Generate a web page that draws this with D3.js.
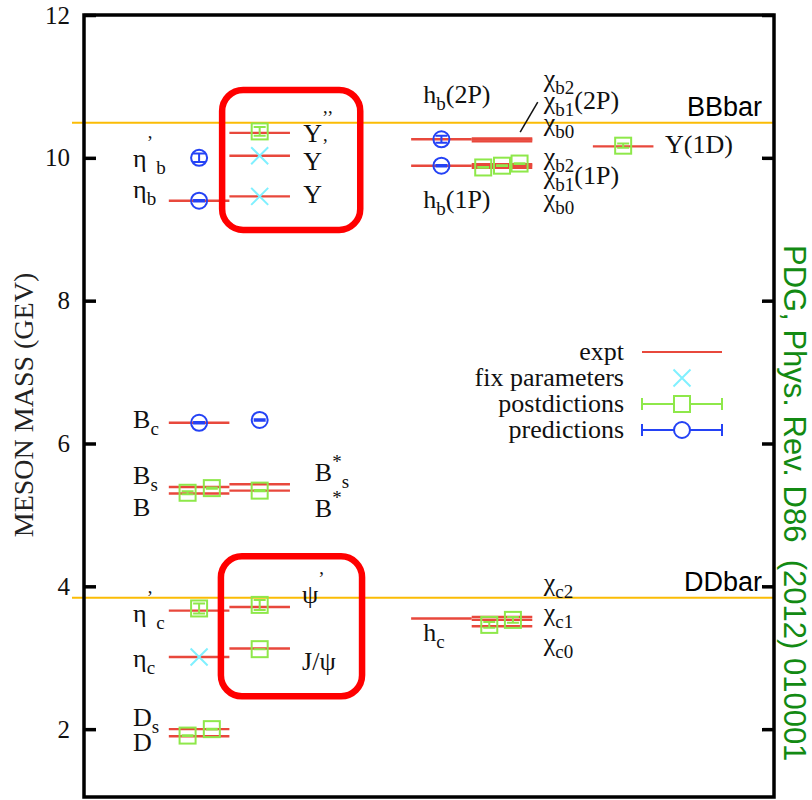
<!DOCTYPE html>
<html>
<head>
<meta charset="utf-8">
<script src="https://cdnjs.cloudflare.com/ajax/libs/d3/7.8.5/d3.min.js"></script>
<style>
  body { margin: 0; background: #fff; }
  svg { display: block; }
  text { white-space: pre; }
</style>
</head>
<body>
<script>
// experimental levels: [column, mass GeV]
var expt = [
    [0, 1.90], [0, 2.00], [0, 3.01], [0, 3.66], [0, 5.30], [0, 5.39], [0, 6.29], [0, 9.40],
    [1, 3.13], [1, 3.71], [1, 5.34], [1, 5.43], [1, 9.46], [1, 10.03], [1, 10.35],
    [4, 3.55], [4, 9.89], [4, 10.26],
    [5, 3.44], [5, 3.53], [5, 3.57], [5, 9.86], [5, 9.89], [5, 9.91],
    [5, 10.23], [5, 10.255], [5, 10.27],
    [7, 10.16]
];
// states used to fix the parameters: [column, mass]
var fixParams = [[0, 3.01], [1, 9.46], [1, 10.03]];
// postdictions: [column, mass, error]
var postdictions = [
    [-0.19, 1.91, 0.005], [0.21, 2.00, 0.005], [0, 3.69, 0.07], [1, 3.12, 0], [1, 3.74, 0.07],
    [-0.19, 5.31, 0.02], [0.21, 5.375, 0.01], [1, 5.34, 0.01], [1, 10.37, 0.06],
    [4.79, 3.46, 0.04], [5.18, 3.53, 0.04],
    [4.69, 9.865, 0.005], [5.0, 9.89, 0.005], [5.29, 9.92, 0.005],
    [7, 10.17, 0.03]
];
// predictions: [column, mass, error]
var predictions = [
    [0, 9.40, 0.01], [0, 10.00, 0.06], [0, 6.29, 0.01], [1, 6.33, 0.01],
    [4, 9.89, 0.01], [4, 10.26, 0.05]
];
// open flavour thresholds
var thresholds = [['BBbar', 10.49], ['DDbar', 3.84]];
var yTicks = [2, 4, 6, 8, 10, 12];
// state names: [column, mass at baseline, text]  (_{} subscript, ^{} superscript)
var labels = [
    [-1.09, 1.69, 'D'], [-1.09, 2.04, 'D_{s}'],
    [-1.09, 2.87, 'η_{c}'], [-1.09, 3.50, 'η^{’}_{ c}'],
    [-1.09, 4.98, 'B'], [-1.09, 5.43, 'B_{s}'], [-1.09, 6.22, 'B_{c}'],
    [-1.09, 9.44, 'η_{b}'], [-1.09, 9.87, 'η^{’}_{ b}'],
    [1.70, 2.83, 'J/ψ'], [1.70, 3.76, 'ψ^{’}'],
    [1.91, 4.97, 'B^{*}'], [1.91, 5.47, 'B^{*}_{s}'],
    [1.72, 9.37, 'Υ'], [1.72, 9.83, 'Υ^{’}'], [1.72, 10.22, 'Υ^{’’}'],
    [3.70, 3.23, 'h_{c}'], [3.70, 9.30, 'h_{b}(1P)'], [3.70, 10.77, 'h_{b}(2P)'],
    [5.69, 3.10, 'χ_{c0}'], [5.69, 3.52, 'χ_{c1}'], [5.69, 3.94, 'χ_{c2}'],
    [5.69, 9.31, 'χ_{b0}'], [5.69, 9.64, 'χ_{b1}(1P)'], [5.69, 9.90, 'χ_{b2}'],
    [5.69, 10.38, 'χ_{b0}'], [5.69, 10.69, 'χ_{b1}(2P)'], [5.69, 10.99, 'χ_{b2}'],
    [7.69, 10.07, 'Υ(1D)']
];
// highlighted families: [col left, col right, mass top, mass bottom]
var boxes = [[0.38, 2.66, 10.95, 8.99], [0.36, 2.69, 4.42, 2.46]];
// pointer from chi_b(2P) lines to their names
var pointer = [[5.30, 10.36], [5.59, 10.78]];

var serif = '"Liberation Serif", "Times New Roman", serif';
var red = '#e8483c', cyan = '#80f0ff', green = '#8ee84a', blue = '#2442f5';

var svg = d3.select('body')
    .append('svg')
    .attr('width', 812)
    .attr('height', 800);

// scales
var x = d3.scaleLinear().domain([-1.9, 9.49]).range([84, 774]);
var y = d3.scaleLinear().domain([1.05, 12]).range([797, 15]);

// thresholds
thresholds.forEach(function (d) {
    svg.append('line')
        .attr('x1', x.range()[0] - 12).attr('x2', x.range()[1])
        .attr('y1', y(d[1])).attr('y2', y(d[1]))
        .attr('stroke', '#fbbc05')
        .attr('stroke-width', 2);
    svg.append('text')
        .attr('x', x.range()[1] - 12)
        .attr('y', y(d[1]) - 7)
        .attr('text-anchor', 'end')
        .attr('font-family', '"Liberation Sans", Arial, sans-serif')
        .attr('font-size', '27px')
        .text(d[0]);
});

// experimental levels
svg.selectAll('line.expt')
    .data(expt)
    .enter().append('line')
    .attr('class', 'expt')
    .attr('x1', function (d) { return x(d[0] - 0.5); })
    .attr('x2', function (d) { return x(d[0] + 0.5); })
    .attr('y1', function (d) { return y(d[1]); })
    .attr('y2', function (d) { return y(d[1]); })
    .attr('stroke', red)
    .attr('stroke-width', 2.4);

// vertical error bar with caps
function errorBar(g, d, color) {
    var cx = x(d[0]);
    g.append('path')
        .attr('d', 'M' + cx + ',' + y(d[1] - d[2]) + 'V' + y(d[1] + d[2]) +
            'M' + (cx - 6) + ',' + y(d[1] - d[2]) + 'H' + (cx + 6) +
            'M' + (cx - 6) + ',' + y(d[1] + d[2]) + 'H' + (cx + 6))
        .attr('fill', 'none')
        .attr('stroke', color)
        .attr('stroke-width', 2);
}

// fix parameters (crosses)
svg.selectAll('path.fix')
    .data(fixParams)
    .enter().append('path')
    .attr('class', 'fix')
    .attr('transform', function (d) { return 'translate(' + x(d[0]) + ',' + y(d[1]) + ')'; })
    .attr('d', 'M-8.5,-8.5L8.5,8.5M-8.5,8.5L8.5,-8.5')
    .attr('stroke', cyan)
    .attr('stroke-width', 2);

// postdictions (squares)
var post = svg.append('g');
postdictions.forEach(function (d) {
    post.append('rect')
        .attr('x', x(d[0]) - 8).attr('y', y(d[1]) - 8)
        .attr('width', 16).attr('height', 16)
        .attr('fill', 'none')
        .attr('stroke', green)
        .attr('stroke-width', 2);
    errorBar(post, d, green);
});

// predictions (circles)
var pred = svg.append('g');
predictions.forEach(function (d) {
    pred.append('circle')
        .attr('cx', x(d[0])).attr('cy', y(d[1]))
        .attr('r', 8)
        .attr('fill', 'none')
        .attr('stroke', blue)
        .attr('stroke-width', 2);
    errorBar(pred, d, blue);
});

// pointer
svg.append('line')
    .attr('x1', x(pointer[0][0])).attr('y1', y(pointer[0][1]))
    .attr('x2', x(pointer[1][0])).attr('y2', y(pointer[1][1]))
    .attr('stroke', '#111')
    .attr('stroke-width', 1.5);

// labels with sub/superscripts
function addLabel(d) {
    var t = svg.append('text')
        .attr('x', x(d[0]))
        .attr('y', y(d[1]))
        .attr('font-family', serif)
        .attr('font-size', '26px')
        .attr('fill', '#111');
    var re = /([_^])\{([^}]*)\}|([^_^]+)/g, m, shift = 0;
    while ((m = re.exec(d[2]))) {
        var target = 0;
        if (m[1] === '_') target = 7;
        if (m[1] === '^') target = m[2] === '*' ? -13 : -18;
        t.append('tspan')
            .attr('dy', target - shift)
            .attr('font-size', m[1] ? '19px' : '26px')
            .text(m[1] ? m[2] : m[3]);
        shift = target;
    }
}
labels.forEach(addLabel);

// highlight boxes
svg.selectAll('rect.box')
    .data(boxes)
    .enter().append('rect')
    .attr('class', 'box')
    .attr('x', function (d) { return x(d[0]); })
    .attr('y', function (d) { return y(d[2]); })
    .attr('width', function (d) { return x(d[1]) - x(d[0]); })
    .attr('height', function (d) { return y(d[3]) - y(d[2]); })
    .attr('rx', 21)
    .attr('fill', 'none')
    .attr('stroke', '#ff0000')
    .attr('stroke-width', 6.5);

// axes, ticks inward
var yaxis = d3.axisLeft(y)
    .tickValues(yTicks)
    .tickSizeInner(-12)
    .tickSizeOuter(0)
    .tickPadding(14);
var yaxisRight = d3.axisRight(y)
    .tickValues(yTicks)
    .tickSizeInner(-12)
    .tickSizeOuter(0)
    .tickFormat('');

var gl = svg.append('g')
    .attr('transform', 'translate(' + x.range()[0] + ',0)')
    .call(yaxis);
var gr = svg.append('g')
    .attr('transform', 'translate(' + x.range()[1] + ',0)')
    .call(yaxisRight);
[gl, gr].forEach(function (g) {
    g.select('.domain').remove();
    g.selectAll('line').attr('stroke', '#000').attr('stroke-width', 3.5);
});
gl.selectAll('text')
    .attr('font-family', serif)
    .attr('font-size', '25px')
    .attr('fill', '#111');

// frame
svg.append('rect')
    .attr('x', x.range()[0])
    .attr('y', y.range()[1])
    .attr('width', x.range()[1] - x.range()[0])
    .attr('height', y.range()[0] - y.range()[1])
    .attr('fill', 'none')
    .attr('stroke', '#000')
    .attr('stroke-width', 3.5);

// legend
var legendItems = ['expt', 'fix parameters', 'postdictions', 'predictions'];
var legend = svg.append('g').attr('transform', 'translate(624, 352)');
legendItems.forEach(function (name, i) {
    var ly = i * 26;
    legend.append('text')
        .attr('x', 0).attr('y', ly + 8)
        .attr('text-anchor', 'end')
        .attr('font-family', serif)
        .attr('font-size', '26px')
        .attr('fill', '#111')
        .text(name);
    if (i === 0) {
        legend.append('line')
            .attr('x1', 18).attr('x2', 98)
            .attr('y1', ly).attr('y2', ly)
            .attr('stroke', red).attr('stroke-width', 2);
    } else if (i === 1) {
        legend.append('path')
            .attr('transform', 'translate(58,' + ly + ')')
            .attr('d', 'M-8.5,-8.5L8.5,8.5M-8.5,8.5L8.5,-8.5')
            .attr('stroke', cyan).attr('stroke-width', 2);
    } else {
        var c = i === 2 ? green : blue;
        legend.append('path')
            .attr('d', 'M18,' + ly + 'H98M18,' + (ly - 6) + 'V' + (ly + 6) + 'M98,' + (ly - 6) + 'V' + (ly + 6))
            .attr('fill', 'none')
            .attr('stroke', c).attr('stroke-width', 2);
        if (i === 2) {
            legend.append('rect')
                .attr('x', 50).attr('y', ly - 8)
                .attr('width', 16).attr('height', 16)
                .attr('fill', '#fff')
                .attr('stroke', c).attr('stroke-width', 2);
        } else {
            legend.append('circle')
                .attr('cx', 58).attr('cy', ly).attr('r', 8)
                .attr('fill', '#fff')
                .attr('stroke', c).attr('stroke-width', 2);
        }
    }
});

// axis title
svg.append('text')
    .attr('transform', 'translate(33,405) rotate(-90)')
    .attr('text-anchor', 'middle')
    .attr('font-family', serif)
    .attr('font-size', '28px')
    .attr('fill', '#222')
    .text('MESON MASS (GEV)');

// source
svg.append('text')
    .attr('transform', 'translate(784,245) rotate(90)')
    .attr('font-family', '"Liberation Sans", Arial, sans-serif')
    .attr('font-size', '31px')
    .attr('fill', '#138a13')
    .text('PDG, Phys. Rev. D86  (2012) 010001');
</script>
</body>
</html>
